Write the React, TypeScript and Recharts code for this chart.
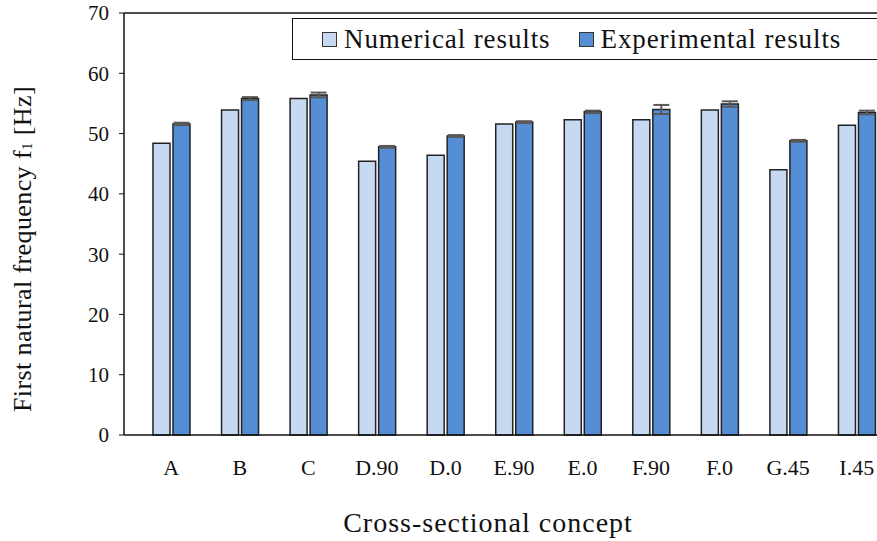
import React from "react"
import {
  BarChart,
  Bar,
  XAxis,
  YAxis,
  ErrorBar,
  Label,
  ReferenceLine,
} from "recharts"

const concepts = ["A", "B", "C", "D.90", "D.0", "E.90", "E.0", "F.90", "F.0", "G.45", "I.45"]
const numerical = [48.4, 53.9, 55.8, 45.4, 46.4, 51.6, 52.3, 52.3, 53.9, 44.0, 51.4]
const experimental = [51.6, 55.8, 56.4, 47.8, 49.6, 51.9, 53.6, 54.0, 54.9, 48.8, 53.5]
const experimentalErr = [0.2, 0.25, 0.4, 0.15, 0.15, 0.15, 0.2, 0.75, 0.45, 0.15, 0.3]
const yTicks = [0, 10, 20, 30, 40, 50, 60, 70]

const NUM_COLOR = "#c6d9f1"
const EXP_COLOR = "#558ed5"
const FONT = "'Liberation Serif', 'DejaVu Serif', serif"

const data = concepts.map((name, i) => ({
  name,
  numerical: numerical[i],
  experimental: experimental[i],
  err: experimentalErr[i],
}))

// legend sits over the plot, so it is laid out as a plain box
function LegendBox() {
  const item = (color: string, label: string, gap: number) => (
    <div style={{ display: "flex", alignItems: "center", marginRight: gap }}>
      <div
        style={{
          width: 13,
          height: 13,
          background: color,
          border: "1.5px solid #333",
          marginRight: 7,
        }}
      />
      <span>{label}</span>
    </div>
  )
  return (
    <div
      style={{
        position: "absolute",
        left: 292,
        top: 18,
        display: "flex",
        alignItems: "center",
        height: 42,
        width: 620,
        border: "1.5px solid #111",
        paddingLeft: 29,
        boxSizing: "border-box",
        background: "#fff",
        fontFamily: FONT,
        fontSize: 27,
        letterSpacing: 0.9,
        color: "#111",
      }}
    >
      {item(NUM_COLOR, "Numerical results", 28)}
      {item(EXP_COLOR, "Experimental results", 0)}
    </div>
  )
}

function YTitle({ viewBox }: any) {
  const cx = 22
  const cy = viewBox ? viewBox.y + viewBox.height / 2 + 25 : 247
  return (
    <text
      x={cx}
      y={cy}
      transform={`rotate(-90 ${cx} ${cy})`}
      textAnchor="middle"
      dominantBaseline="central"
      fontFamily={FONT}
      fontSize={26}
      letterSpacing={0.4}
      fill="#111"
    >
      First natural frequency f
      <tspan fontSize={15} dy={5}>1</tspan>
      <tspan dy={-5}> [Hz]</tspan>
    </text>
  )
}

function XTitle({ viewBox }: any) {
  const cx = 488
  const y = viewBox ? viewBox.y + viewBox.height - 9 : 532
  return (
    <text
      x={cx}
      y={y}
      textAnchor="middle"
      fontFamily={FONT}
      fontSize={28}
      letterSpacing={1}
      fill="#111"
    >
      Cross-sectional concept
    </text>
  )
}

export default function App() {
  return (
    <div
      style={{
        position: "fixed",
        left: 0,
        top: 0,
        width: 877,
        height: 541,
        overflow: "hidden",
        background: "#fff",
      }}
    >
      <BarChart
        width={891}
        height={541}
        data={data}
        margin={{ top: 13, right: 0, bottom: 0, left: 0 }}
        barSize={17}
        barGap={3}
      >
        <ReferenceLine y={70} stroke="#111" strokeWidth={1.5} />
        <XAxis
          dataKey="name"
          height={106}
          padding={{ left: 13, right: 0 }}
          axisLine={{ stroke: "#111", strokeWidth: 1.5 }}
          tickLine={false}
          tickMargin={18}
          tick={{ fontFamily: FONT, fontSize: 22, fill: "#111" }}
          interval={0}
        >
          <Label content={<XTitle />} />
        </XAxis>
        <YAxis
          width={124}
          domain={[0, 70]}
          ticks={yTicks}
          interval={0}
          axisLine={{ stroke: "#111", strokeWidth: 1.5 }}
          tickLine={{ stroke: "#111" }}
          tickSize={5}
          tickMargin={10}
          tick={{ fontFamily: FONT, fontSize: 21, fill: "#111" }}
        >
          <Label content={<YTitle />} />
        </YAxis>
        <Bar
          dataKey="numerical"
          fill={NUM_COLOR}
          stroke="#222"
          strokeWidth={1.5}
          isAnimationActive={false}
        />
        <Bar
          dataKey="experimental"
          fill={EXP_COLOR}
          stroke="#222"
          strokeWidth={1.5}
          isAnimationActive={false}
        >
          <ErrorBar dataKey="err" width={8} stroke="#595959" strokeWidth={2} />
        </Bar>
      </BarChart>
      <LegendBox />
    </div>
  )
}
